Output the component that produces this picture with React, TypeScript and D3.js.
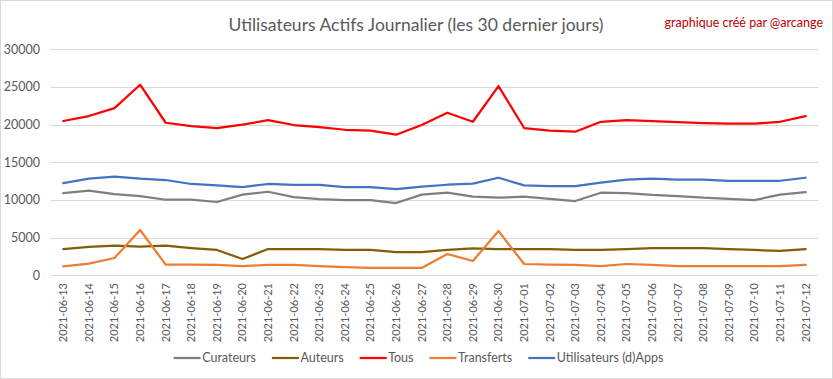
import React, { useEffect, useRef } from "react";
import * as d3 from "d3";

const dates = [
  "2021-06-13","2021-06-14","2021-06-15","2021-06-16","2021-06-17","2021-06-18","2021-06-19","2021-06-20",
  "2021-06-21","2021-06-22","2021-06-23","2021-06-24","2021-06-25","2021-06-26","2021-06-27","2021-06-28",
  "2021-06-29","2021-06-30","2021-07-01","2021-07-02","2021-07-03","2021-07-04","2021-07-05","2021-07-06",
  "2021-07-07","2021-07-08","2021-07-09","2021-07-10","2021-07-11","2021-07-12",
];

const curateurs = [10920,11230,10790,10520,10030,10030,9730,10700,11090,10390,10120,9990,9990,9590,10700,
  10960,10430,10300,10430,10160,9860,10960,10920,10660,10520,10300,10160,9990,10700,11050];
const auteurs = [3490,3760,3930,3800,3930,3620,3360,2160,3490,3490,3490,3360,3360,3090,3090,
  3360,3580,3490,3490,3490,3360,3360,3490,3620,3620,3620,3490,3360,3230,3490];
const tous = [20480,21140,22200,25300,20250,19810,19550,19990,20600,19950,19680,19320,19190,18660,19950,
  21580,20380,25120,19550,19190,19060,20380,20610,20480,20340,20210,20120,20120,20380,21140];
const transferts = [1190,1540,2300,6010,1410,1410,1370,1230,1370,1370,1230,1100,970,970,970,
  2830,1900,5880,1500,1410,1370,1230,1500,1370,1230,1230,1230,1230,1230,1370];
const utilisateurs = [12250,12820,13090,12820,12650,12120,11940,11720,12120,11990,11990,11720,11720,11450,11760,
  12020,12160,12950,11940,11850,11850,12290,12690,12820,12690,12690,12550,12550,12550,12950];

const seriesNames = ["Curateurs", "Auteurs", "Tous", "Transferts", "Utilisateurs (d)Apps"];
const seriesColors = ["#7f7f7f", "#7f6000", "#ff0000", "#ed7d31", "#4472c4"];
const seriesValues = [curateurs, auteurs, tous, transferts, utilisateurs];
const yTicks = [0, 5000, 10000, 15000, 20000, 25000, 30000];

const W = 833, H = 379;
const FONT = "Lato, 'Open Sans', sans-serif";

export default function App() {
  const ref = useRef<SVGSVGElement>(null);
  useEffect(() => {
    const svg = d3.select(ref.current);
    svg.selectAll("*").remove();
    svg.append("rect").attr("x", 0.5).attr("y", 0.5).attr("width", W - 1).attr("height", H - 1)
      .attr("fill", "#fff").attr("stroke", "#d9d9d9");

    const x = d3.scaleBand<string>().domain(dates).range([50.5, 818.5]);
    const y = d3.scaleLinear().domain([0, 30000]).range([275.3, 49.3]);
    const cx = (d: string) => (x(d) as number) + x.bandwidth() / 2;

    // gridlines
    svg.append("g").selectAll("line").data(yTicks).join("line")
      .attr("x1", 50.5).attr("x2", 818.5)
      .attr("y1", d => Math.round(y(d)) + 0.5).attr("y2", d => Math.round(y(d)) + 0.5)
      .attr("stroke", "#d9d9d9").attr("stroke-width", 1);

    // y labels
    svg.append("g").selectAll("text").data(yTicks).join("text")
      .attr("x", 40).attr("y", d => y(d)).attr("dy", "0.35em")
      .attr("text-anchor", "end").attr("font-family", FONT).attr("font-size", 12.5)
      .attr("fill", "#595959").text(d => String(d));

    // x labels
    svg.append("g").selectAll("text").data(dates).join("text")
      .attr("transform", d => `translate(${cx(d)},${283}) rotate(-90)`)
      .attr("dy", "0.35em")
      .attr("text-anchor", "end").attr("font-family", FONT).attr("font-size", 11)
      .attr("fill", "#595959").text(d => d);

    // lines
    const line = d3.line<number>().x((_, i) => cx(dates[i])).y(v => y(v));
    seriesValues.forEach((vals, k) => {
      svg.append("path").datum(vals).attr("d", line).attr("fill", "none")
        .attr("stroke", seriesColors[k]).attr("stroke-width", 2.25)
        .attr("stroke-linejoin", "round").attr("stroke-linecap", "round");
    });

    // title
    svg.append("text").attr("x", 416).attr("y", 31).attr("text-anchor", "middle")
      .attr("font-family", FONT).attr("font-size", 17.5).attr("fill", "#595959")
      .text("Utilisateurs Actifs Journalier (les 30 dernier jours)");
    svg.append("text").attr("x", 823).attr("y", 27).attr("text-anchor", "end")
      .attr("font-family", FONT).attr("font-size", 12.5).attr("fill", "#c00000")
      .text("graphique créé par @arcange");

    // legend
    const lg = svg.append("g");
    const items = seriesNames.map((name, k) => {
      const g = lg.append("g");
      g.append("line").attr("x1", 0).attr("x2", 27).attr("y1", 0).attr("y2", 0)
        .attr("stroke", seriesColors[k]).attr("stroke-width", 2.25);
      const t = g.append("text").attr("x", 28.5).attr("y", 0).attr("dy", "0.35em")
        .attr("font-family", FONT).attr("font-size", 12.5).attr("fill", "#595959").text(name);
      const tw = (t.node() as SVGTextElement).getComputedTextLength();
      return { g, w: 28.5 + tw };
    });
    const gap = 16;
    const total = d3.sum(items, d => d.w) + gap * (items.length - 1);
    let pos = 418.5 - total / 2;
    items.forEach(it => {
      it.g.attr("transform", `translate(${pos},358)`);
      pos += it.w + gap;
    });
  }, []);
  return (
    <svg ref={ref} width={W} height={H}
      style={{ position: "absolute", left: 0, top: 0, display: "block" }} />
  );
}
